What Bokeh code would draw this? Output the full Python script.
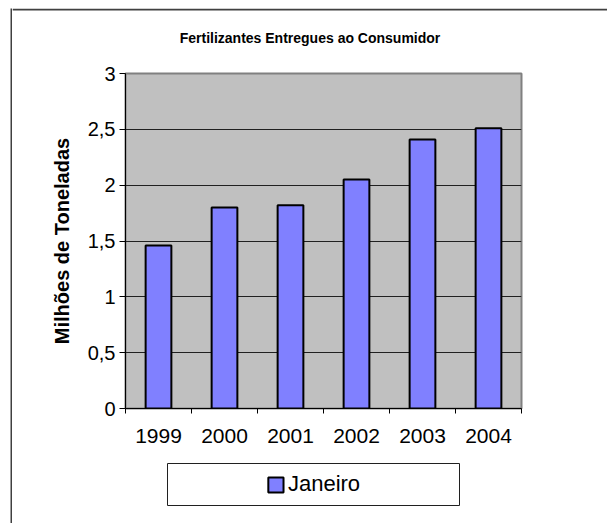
from bokeh.plotting import figure
from bokeh.models import FixedTicker, Range1d, Legend, LegendItem, Label, BoxAnnotation
from bokeh.layouts import row, column
from bokeh.embed import file_html
from bokeh.resources import INLINE

years = ["1999", "2000", "2001", "2002", "2003", "2004"]
values = [1.46, 1.80, 1.82, 2.05, 2.41, 2.51]
y_ticks = [0, 0.5, 1, 1.5, 2, 2.5, 3]
y_tick_labels = ["0", "0,5", "1", "1,5", "2", "2,5", "3"]
series_name = "Janeiro"
title_text = "Fertilizantes Entregues ao Consumidor"
y_label = "Milhões de Toneladas"

FONT = "Liberation Sans"
BAR = "#8080FF"
FRAME = "#404040"

x_centers = [i + 0.5 for i in range(len(years))]
x_bounds = list(range(len(years) + 1))


def blank(width, height, xr=(0, 1), yr=(0, 1), **borders):
    f = figure(width=width, height=height, output_backend="svg", toolbar_location=None,
               x_axis_type=None, y_axis_type=None, frame_align=False, title=None,
               x_range=Range1d(*xr), y_range=Range1d(*yr), **borders)
    f.grid.visible = False
    f.border_fill_color = "white"
    return f


# outer chart frame: left edge
left_strip = blank(12, 523, min_border_left=10, min_border_right=0,
                   min_border_top=8, min_border_bottom=0)
left_strip.background_fill_color = FRAME
left_strip.outline_line_color = None

# title band with the top edge of the chart frame (pixel-sized ranges)
tf = blank(595, 63, xr=(0, 595), yr=(0, 55), min_border_left=0, min_border_right=0,
           min_border_top=8, min_border_bottom=0)
tf.background_fill_color = "white"
tf.outline_line_color = None
tf.add_layout(BoxAnnotation(top=55, bottom=53, fill_color=FRAME, fill_alpha=1,
                            line_alpha=0))
tf.add_layout(Label(x=297.5, y=26, text=title_text, text_align="center",
                    text_baseline="middle", text_font=FONT, text_font_size="14px",
                    text_font_style="bold", text_color="black"))

# main chart
p = figure(width=595, height=397, output_backend="svg", toolbar_location=None,
           frame_align=False, title=None,
           x_range=Range1d(0, len(years)), y_range=Range1d(y_ticks[0], y_ticks[-1]),
           min_border_left=113, min_border_right=86, min_border_top=10,
           min_border_bottom=52)

p.background_fill_color = "#C0C0C0"
p.border_fill_color = "white"
p.outline_line_color = "#808080"
p.outline_line_width = 2

p.xgrid.visible = False
p.ygrid.ticker = FixedTicker(ticks=y_ticks[:-1])
p.ygrid.grid_line_color = "#202020"
p.ygrid.grid_line_width = 1

p.vbar(x=x_centers, top=values, width=0.39, fill_color=BAR,
       line_color="black", line_width=2)

ya = p.yaxis[0]
ya.ticker = FixedTicker(ticks=y_ticks)
ya.major_label_overrides = dict(zip(y_ticks, y_tick_labels))
ya.axis_line_color = "black"
ya.axis_line_width = 1
ya.major_tick_in = 0
ya.major_tick_out = 6
ya.major_tick_line_color = "black"
ya.minor_tick_line_color = None
ya.major_label_standoff = 4
ya.major_label_text_font = FONT
ya.major_label_text_font_size = "20px"
ya.major_label_text_color = "black"
ya.axis_label = y_label
ya.axis_label_text_font = FONT
ya.axis_label_text_font_size = "20px"
ya.axis_label_text_font_style = "bold"
ya.axis_label_text_color = "black"
ya.axis_label_standoff = 12

xa = p.xaxis[0]
xa.ticker = FixedTicker(ticks=x_centers, minor_ticks=x_bounds)
xa.major_label_overrides = dict(zip(x_centers, years))
xa.axis_line_color = "black"
xa.axis_line_width = 1
xa.major_tick_in = 0
xa.major_tick_out = 0
xa.major_tick_line_color = None
xa.minor_tick_in = 0
xa.minor_tick_out = 5
xa.minor_tick_line_color = "black"
xa.major_label_standoff = 15
xa.major_label_text_font = FONT
xa.major_label_text_font_size = "21px"
xa.major_label_text_color = "black"

# legend box
lf = blank(595, 63, min_border_left=155, min_border_right=148,
           min_border_top=3, min_border_bottom=18)
lf.background_fill_color = "white"
lf.outline_line_color = "#202020"
lf.outline_line_width = 1
swatch = lf.vbar(x=x_centers, top=values, width=0.39, fill_color=BAR,
                 line_color="black", line_width=2, visible=False)
legend = Legend(items=[LegendItem(label=series_name, renderers=[swatch])],
                location="center", orientation="horizontal",
                border_line_color=None, background_fill_alpha=0,
                padding=0, margin=0, glyph_width=19, glyph_height=19,
                label_standoff=3, label_text_font=FONT,
                label_text_font_size="22px", label_text_color="black")
lf.add_layout(legend)

layout = row(left_strip, column(tf, p, lf))

open("out.html", "w").write(file_html(layout, INLINE))
